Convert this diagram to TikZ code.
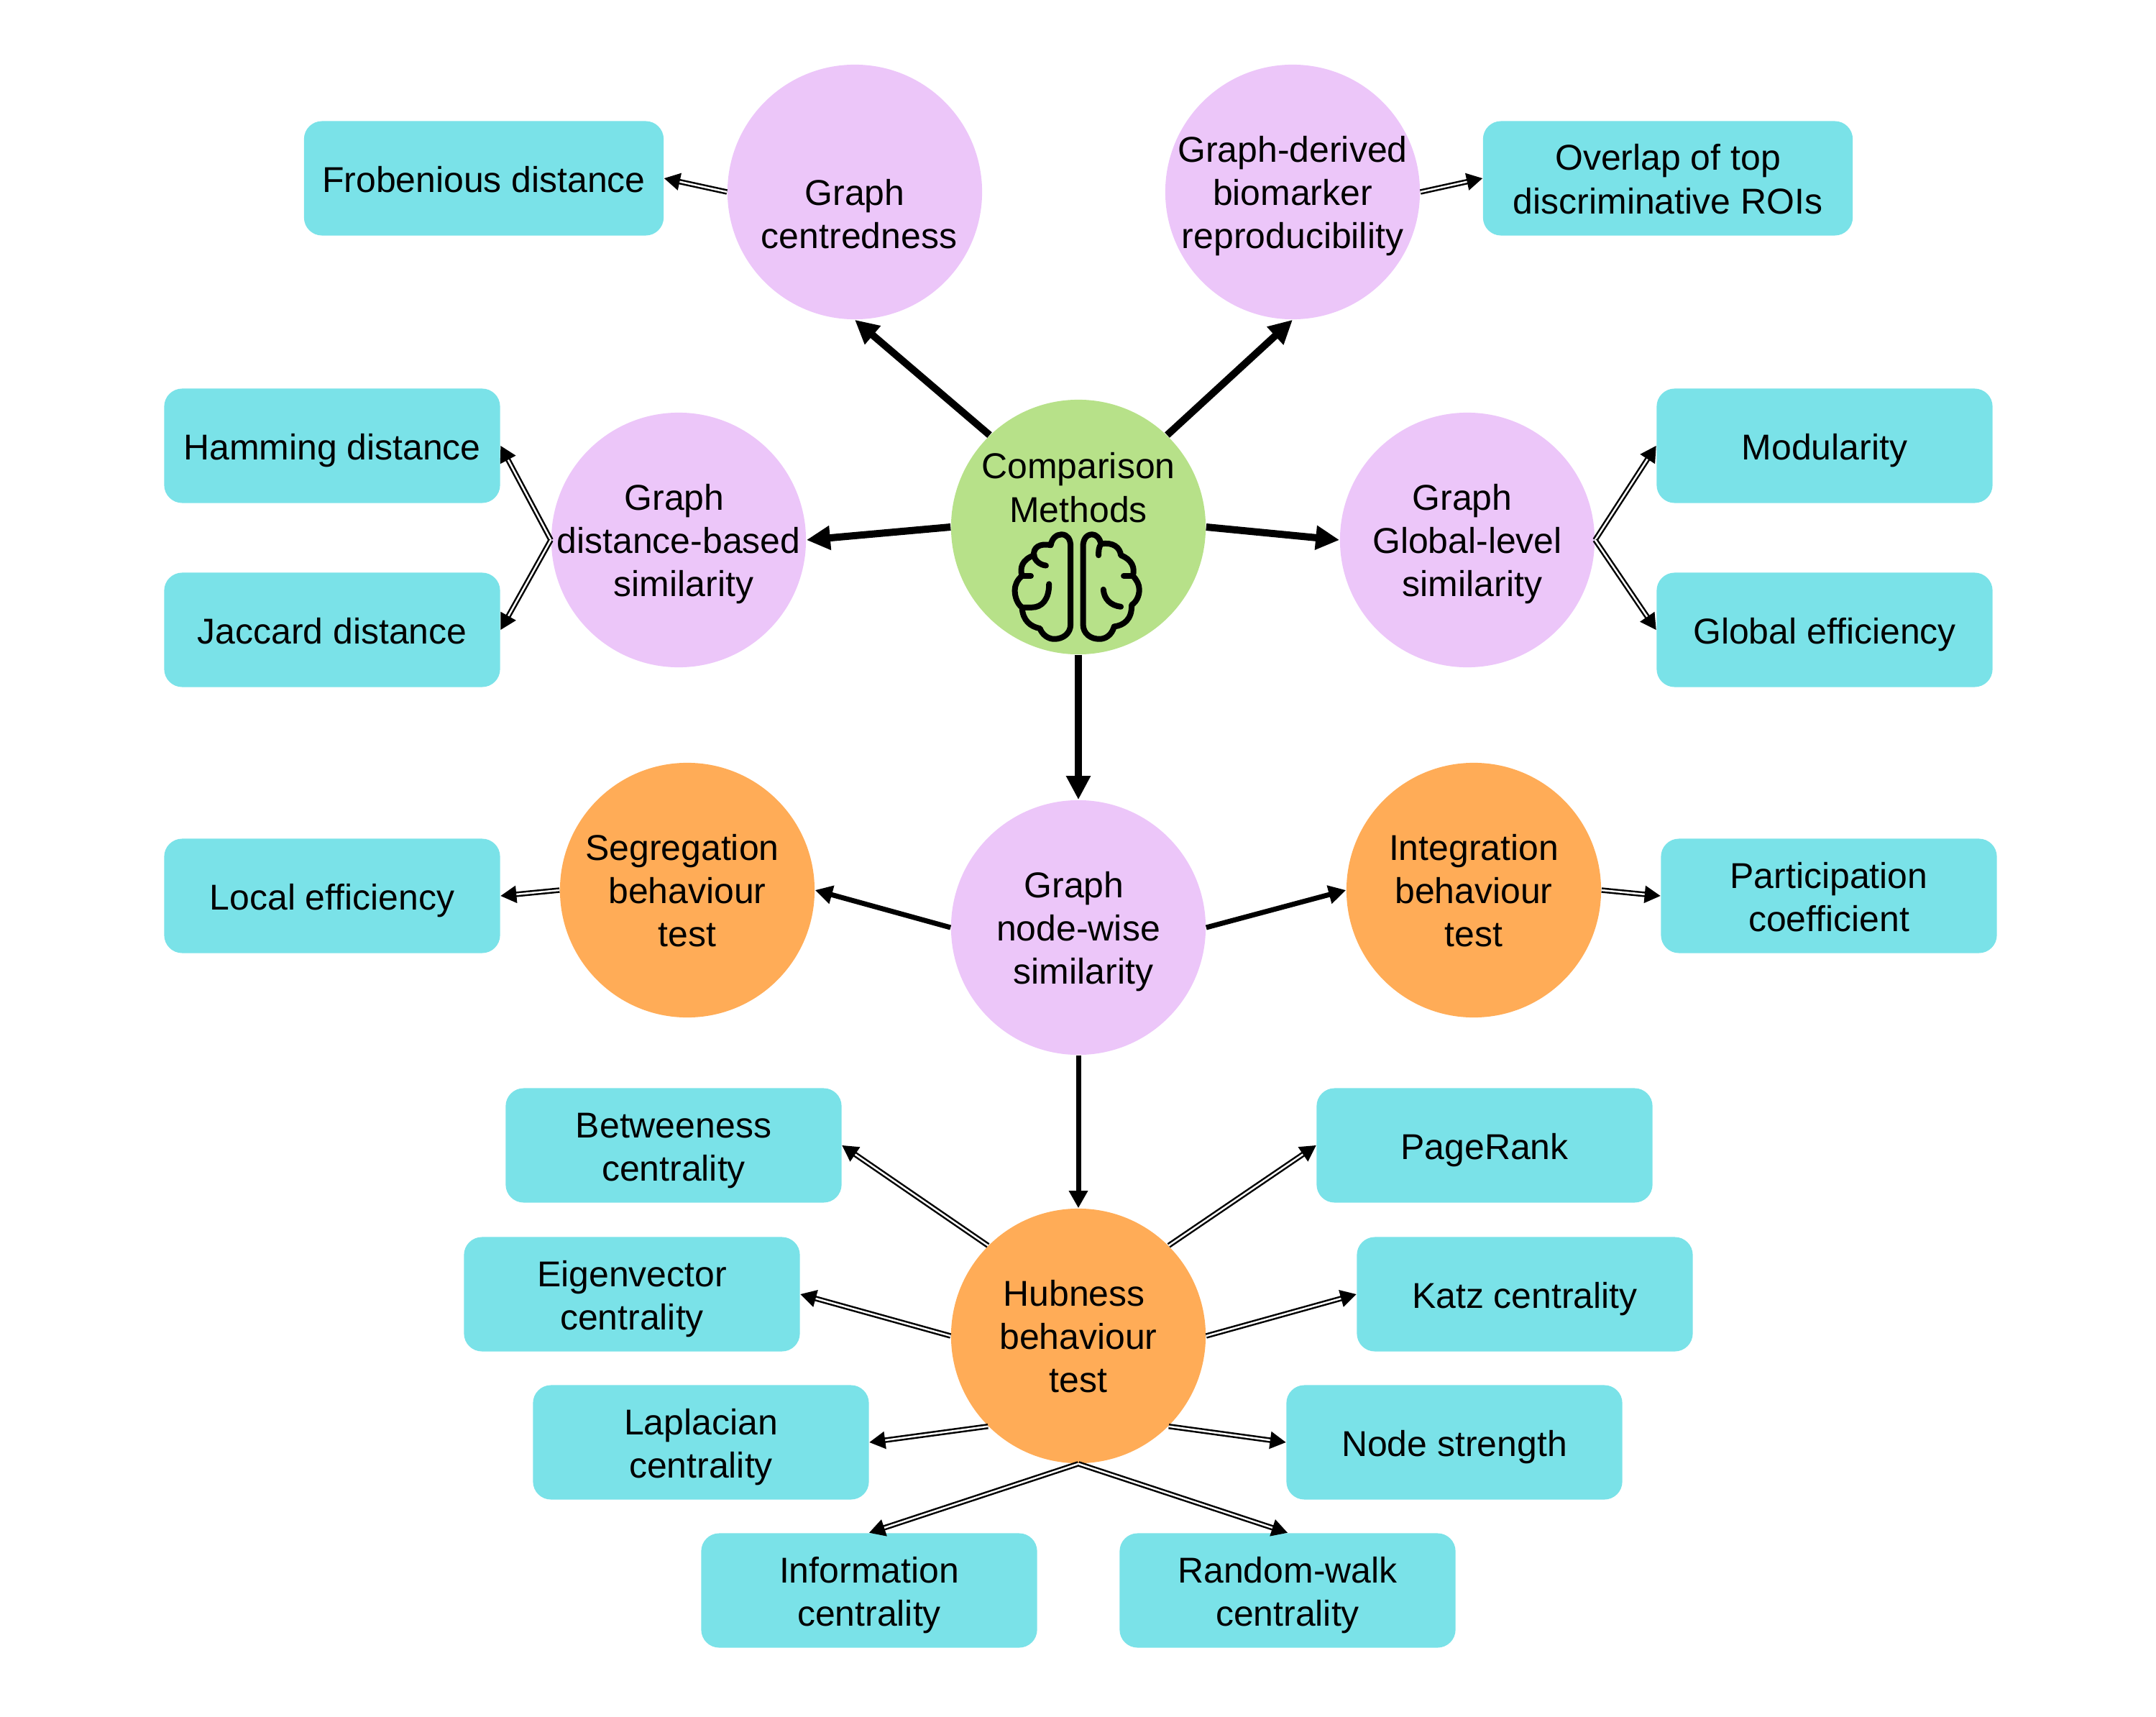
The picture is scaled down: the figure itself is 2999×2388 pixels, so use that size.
\documentclass[tikz,border=0pt]{standalone}
\usepackage{fontspec}
\setmainfont{Liberation Sans}
\usetikzlibrary{arrows.meta}

\definecolor{rootgreen}{HTML}{B7E189}
\definecolor{simpurple}{HTML}{ECC6F9}
\definecolor{testorange}{HTML}{FFAC57}
\definecolor{boxcyan}{HTML}{7AE2E8}

\tikzset{
  every node/.style={font=\fontsize{14.2}{17.07}\selectfont,
    execute at begin node=\rule{0pt}{16pt}, execute at end node=\strut},
  linestwo/.style={execute at begin node=\rule{0pt}{33pt}},
  linesthree/.style={execute at begin node=\rule{0pt}{50pt}},
  bubble/.style={circle, minimum size=3.54cm, inner sep=-0.6cm, align=center, linesthree},
  infobox/.style={rectangle, rounded corners=0.25cm, fill=boxcyan, minimum width=4.67cm,
    minimum height=1.59cm, inner sep=0pt, align=center},
  mainarrow/.style={line width=0.1cm, -{Triangle[length=0.33cm,width=0.32cm]}},
  subarrow/.style={line width=0.07cm, -{Triangle[length=0.24cm,width=0.25cm]}},
  dblarrow/.style={line width=0.025cm, double, double distance=0.025cm,
    -{Triangle[length=0.22cm,width=0.24cm]}},
}

\begin{document}
\begin{tikzpicture}[x=0.01cm, y=-0.01cm]
    \useasboundingbox (0,0) rectangle (2999,2388);

    % circles
    \node[bubble, fill=rootgreen] (comparison) at (1500,733) {};
    \node (comparisontext) [align=center, linestwo] at (1500,677) {Comparison\\Methods};
    \node[bubble, linestwo, fill=simpurple] (centredness) at (1189,267) {Graph\\\hspace*{0.12cm}centredness};
    \node[bubble, fill=simpurple] (derived) at (1798,267) {Graph-derived\\biomarker\\reproducibility};
    \node[bubble, fill=simpurple] (distsim) at (944,751) {Graph\hspace*{0.12cm}\\distance-based\\\hspace*{0.14cm}similarity};
    \node[bubble, fill=simpurple] (globalsim) at (2041,751) {Graph\hspace*{0.14cm}\\Global-level\\\hspace*{0.14cm}similarity};
    \node[bubble, fill=simpurple] (nodesim) at (1500,1290) {Graph\hspace*{0.12cm}\\node-wise\\\hspace*{0.14cm}similarity};
    \node[bubble, fill=testorange] (segregation) at (956,1238) {Segregation\hspace*{0.14cm}\\behaviour\\test};
    \node[bubble, fill=testorange] (integration) at (2050,1238) {Integration\\behaviour\\test};
    \node[bubble, fill=testorange] (hubness) at (1500,1858) {Hubness\hspace*{0.12cm}\\behaviour\\test};

    % boxes
    \node[infobox, minimum width=5cm] (frobenius) at (673,248) {Frobenious distance};
    \node[infobox, linestwo, minimum width=5.14cm] (overlap) at (2320,248) {Overlap of top\\discriminative ROIs};
    \node[infobox] (hamming) at (462,620) {Hamming distance};
    \node[infobox] (jaccard) at (462,876) {Jaccard distance};
    \node[infobox] (modularity) at (2538,620) {Modularity};
    \node[infobox] (globaleff) at (2538,876) {Global efficiency};
    \node[infobox] (localeff) at (462,1246) {Local efficiency};
    \node[infobox, linestwo] (participation) at (2544,1246) {Participation\\coefficient};
    \node[infobox, linestwo] (betweeness) at (937,1593) {Betweeness\\centrality};
    \node[infobox] (pagerank) at (2065,1593) {PageRank};
    \node[infobox, linestwo] (eigenvector) at (879,1800) {Eigenvector\\centrality};
    \node[infobox] (katz) at (2121,1800) {Katz centrality};
    \node[infobox, linestwo] (laplacian) at (975,2006) {Laplacian\\centrality};
    \node[infobox] (strength) at (2023,2006) {Node strength};
    \node[infobox, linestwo] (information) at (1209,2212) {Information\\centrality};
    \node[infobox, linestwo] (randomwalk) at (1791,2212) {Random-walk\\centrality};

    % from the root
    \draw[mainarrow] (comparison.134) -- (centredness.south);
    \draw[mainarrow] (comparison.46) -- (derived.south);
    \draw[mainarrow] (comparison.west) -- (distsim.east);
    \draw[mainarrow] (comparison.east) -- (globalsim.west);
    \draw[mainarrow] (comparison.south) -- (nodesim.north);

    % from node-wise similarity
    \draw[subarrow] (nodesim.west) -- (segregation.east);
    \draw[subarrow] (nodesim.east) -- (integration.west);
    \draw[subarrow] (nodesim.south) -- (hubness.north);

    % to the boxes
    \draw[dblarrow] (centredness.west) -- (frobenius.east);
    \draw[dblarrow] (derived.east) -- (overlap.west);
    \draw[dblarrow] (distsim.west) -- (hamming.east);
    \draw[dblarrow] (distsim.west) -- (jaccard.east);
    \draw[dblarrow] (globalsim.east) -- (modularity.west);
    \draw[dblarrow] (globalsim.east) -- (globaleff.west);
    \draw[dblarrow] (segregation.west) -- (localeff.east);
    \draw[dblarrow] (integration.east) -- (participation.west);
    \draw[dblarrow] (hubness.135) -- (betweeness.east);
    \draw[dblarrow] (hubness.45) -- (pagerank.west);
    \draw[dblarrow] (hubness.west) -- (eigenvector.east);
    \draw[dblarrow] (hubness.east) -- (katz.west);
    \draw[dblarrow] (hubness.225) -- (laplacian.east);
    \draw[dblarrow] (hubness.315) -- (strength.west);
    \draw[dblarrow] (hubness.south) -- (information.north);
    \draw[dblarrow] (hubness.south) -- (randomwalk.north);

    % brain
    \begin{scope}[shift={(1400,735)}, x=0.003333cm, y=-0.003333cm, line width=0.08cm,
        line cap=round, line join=round]
      \draw (268,75) -- (268,400) .. controls (268,440) and (235,462) .. (200,462)
        .. controls (175,462) and (150,445) .. (140,418)
        .. controls (100,410) and (68,385) .. (65,330)
        .. controls (45,315) and (35,285) .. (35,260)
        .. controls (35,235) and (45,215) .. (65,198)
        .. controls (55,165) and (65,130) .. (115,112)
        .. controls (110,80) and (140,60) .. (185,70)
        .. controls (190,40) and (210,25) .. (230,25)
        .. controls (255,25) and (268,45) .. (268,75);
      \draw (65,198) -- (102,198);
      \draw (115,112) .. controls (118,135) and (140,152) .. (165,155);
      \draw (65,330) -- (105,330) .. controls (150,330) and (178,295) .. (178,232);
      \draw (320,75) -- (320,400) .. controls (320,440) and (352,462) .. (388,462)
        .. controls (415,462) and (440,445) .. (450,410)
        .. controls (490,405) and (525,380) .. (523,320)
        .. controls (545,305) and (555,280) .. (555,255)
        .. controls (555,235) and (545,215) .. (528,198)
        .. controls (538,165) and (525,130) .. (478,112)
        .. controls (475,80) and (445,55) .. (395,65)
        .. controls (390,40) and (375,25) .. (358,25)
        .. controls (335,25) and (320,45) .. (320,75);
      \draw (490,198) -- (528,198);
      \draw (395,65) .. controls (385,80) and (385,95) .. (385,112);
      \draw (405,255) .. controls (408,295) and (435,322) .. (478,327);
    \end{scope}
\end{tikzpicture}
\end{document}
